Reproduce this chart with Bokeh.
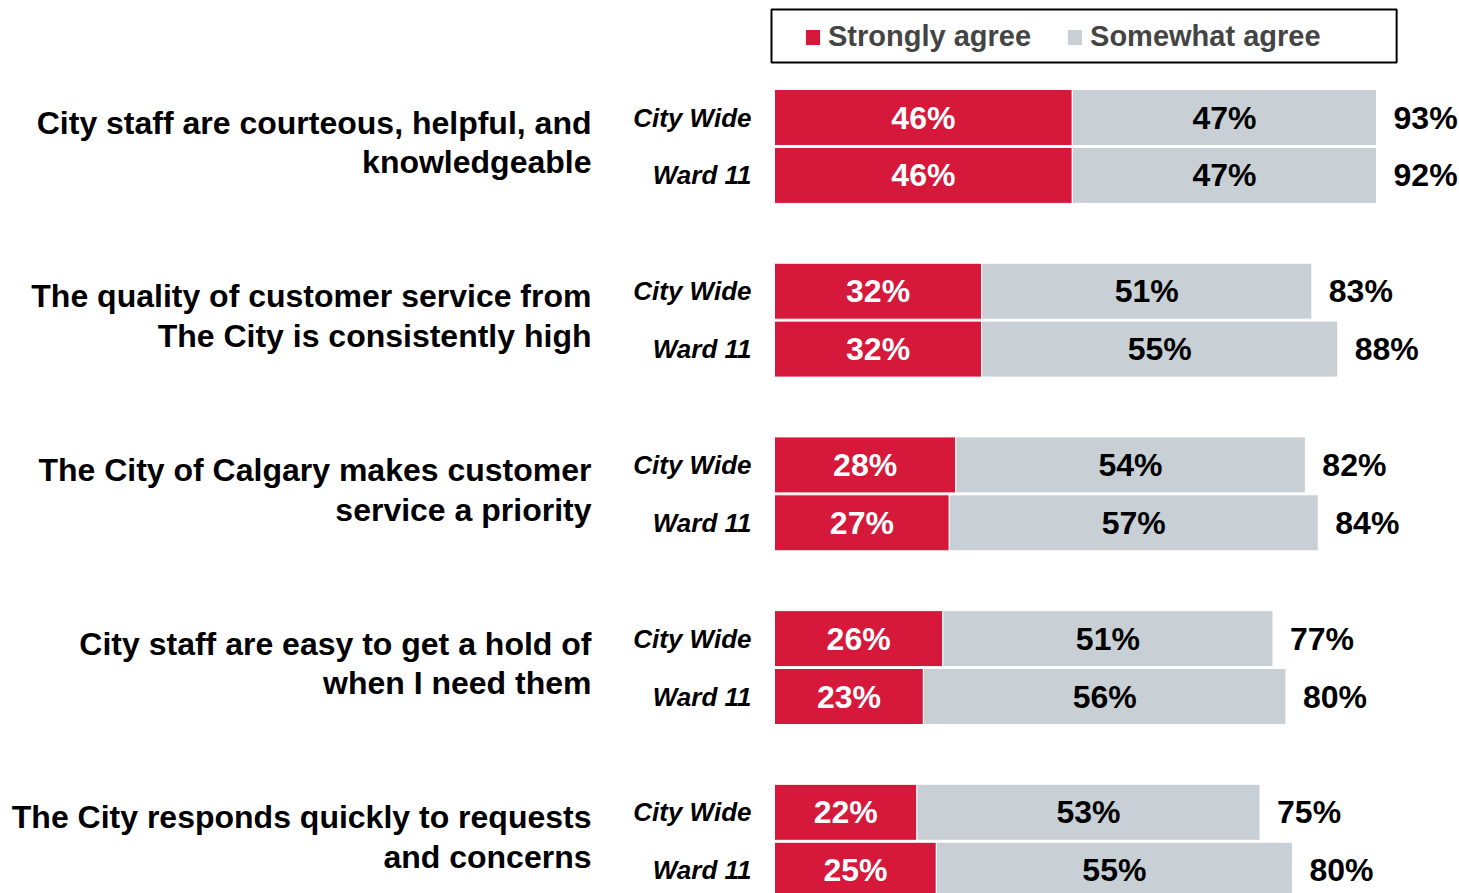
from bokeh.plotting import figure
from bokeh.models import ColumnDataSource, Range1d, Legend, LegendItem
from bokeh.core.properties import value
from bokeh.embed import file_html
from bokeh.resources import INLINE

# ---------------- data ----------------
questions = [
    "City staff are courteous, helpful, and\nknowledgeable",
    "The quality of customer service from\nThe City is consistently high",
    "The City of Calgary makes customer\nservice a priority",
    "City staff are easy to get a hold of\nwhen I need them",
    "The City responds quickly to requests\nand concerns",
]
groups = ["City Wide", "Ward 11"]
strongly_city = [46, 32, 28, 26, 22]
strongly_ward = [46, 32, 27, 23, 25]
somewhat_city = [47, 51, 54, 51, 53]
somewhat_ward = [47, 55, 57, 56, 55]
total_city = [93, 83, 82, 77, 75]
total_ward = [92, 88, 84, 80, 80]

# ---------------- style ----------------
FONT = "Liberation Sans"
RED = "#D6183A"
GRAY = "#C8D0D6"
BAR_H = 0.967

rows = dict(y=[], strong=[], end=[], smid=[], wmid=[], stxt=[], wtxt=[], ttxt=[], grp=[])
for i in range(len(questions)):
    for j, (s, w, t) in enumerate([(strongly_city[i], somewhat_city[i], total_city[i]),
                                    (strongly_ward[i], somewhat_ward[i], total_ward[i])]):
        rows["y"].append(3 * i + j)
        rows["strong"].append(s)
        rows["end"].append(s + w)
        rows["smid"].append(s / 2)
        rows["wmid"].append(s + w / 2)
        rows["stxt"].append(f"{s}%")
        rows["wtxt"].append(f"{w}%")
        rows["ttxt"].append(f"{t}%")
        rows["grp"].append(groups[j])
src = ColumnDataSource(rows)
qsrc = ColumnDataSource(dict(y=[3 * i + 0.5 for i in range(len(questions))], text=questions))

p = figure(width=1459, height=893,
           x_range=Range1d(-119.55, 105.81), y_range=Range1d(13.402, -2.0207),
           output_backend="svg", toolbar_location=None,
           x_axis_location=None, y_axis_location=None,
           min_border=0, outline_line_color=None)
p.grid.visible = False

r1 = p.hbar(y="y", left=0, right="strong", height=BAR_H, fill_color=RED,
            line_color="white", line_width=1, source=src)
r2 = p.hbar(y="y", left="strong", right="end", height=BAR_H, fill_color=GRAY,
            line_color="white", line_width=1, source=src)

common = dict(text_font=value(FONT), text_font_style="bold", text_baseline="middle")
p.text(x="smid", y="y", text="stxt", text_color="white", text_align="center",
       text_font_size="32px", source=src, **common)
p.text(x="wmid", y="y", text="wtxt", text_color="black", text_align="center",
       text_font_size="32px", source=src, **common)
p.text(x="end", y="y", text="ttxt", text_color="black", text_align="left", x_offset=17,
       text_font_size="32px", source=src, **common)
p.text(x=0, y="y", text="grp", text_color="black", text_align="right", x_offset=-23,
       text_font_size="26px", text_font=value(FONT), text_font_style="bold italic",
       text_baseline="middle", source=src)
p.text(x=0, y="y", text="text", text_color="black", text_align="right", x_offset=-183,
       y_offset=-4, text_font_size="32px", text_line_height=1.1, source=qsrc, **common)

# legend frame
p.quad(left=[-0.46], right=[96.1], top=[-1.865], bottom=[-0.95],
       fill_color=None, line_color="black", line_width=2)

legend = Legend(items=[LegendItem(label="Strongly agree", renderers=[r1]),
                       LegendItem(label="Somewhat agree", renderers=[r2])],
                location=(795, 832), orientation="horizontal",
                glyph_width=19, glyph_height=20, label_standoff=6, spacing=34,
                padding=8, margin=0,
                label_text_font=FONT, label_text_font_style="bold",
                label_text_font_size="29px",
                border_line_alpha=0, background_fill_alpha=0)
p.add_layout(legend)

open("out.html", "w").write(file_html(p, INLINE))
